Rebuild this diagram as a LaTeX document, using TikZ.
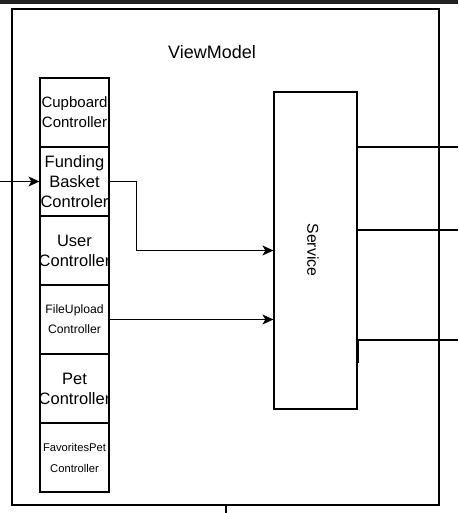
\documentclass[tikz,border=0pt]{standalone}
\usepackage{fontspec}
\setmainfont{Liberation Sans}
\usetikzlibrary{arrows.meta}
\newcommand{\zl}[1]{\makebox[0pt]{#1}}
\begin{document}
\begin{tikzpicture}[x=1pt,y=-1pt,
  line width=1.2pt,
  cell/.style={draw, rectangle, minimum width=69pt, minimum height=69pt, inner sep=0pt, align=center},
  bigtxt/.style={font=\fontsize{16.5}{20}\selectfont},
  midtxt/.style={font=\fontsize{15}{20}\selectfont},
  smalltxt/.style={font=\fontsize{12.2}{20}\selectfont},
  tinytxt/.style={font=\fontsize{11.2}{21}\selectfont},
  arr/.style={-{Stealth[length=11pt,width=10pt,inset=3pt]}}
]
\useasboundingbox (0,0) rectangle (458,513);
\fill[black!87] (0,0) rectangle (458,4);
% outer ViewModel box
\node[draw, rectangle, minimum width=427pt, minimum height=496pt, inner sep=0pt] (vm) at (225.5,257) {};
\node[font=\fontsize{18}{20}\selectfont] (vmlabel) at (212,52) {ViewModel};
% controllers
\node[cell, midtxt]   (cup)  at (74.5,112.5) {\zl{Cupboard}\\\zl{Controller}};
\node[cell, bigtxt]   (fund) at (74.5,181.5) {\zl{Funding}\\\zl{Basket}\\\zl{Controler}};
\node[cell, bigtxt]   (user) at (74.5,250.5) {\zl{User}\\\zl{Controller}};
\node[cell, smalltxt] (file) at (74.5,319.5) {\zl{FileUpload}\\\zl{Controller}};
\node[cell, bigtxt]   (pet)  at (74.5,388.5) {\zl{Pet}\\\zl{Controller}};
\node[cell, tinytxt]  (fav)  at (74.5,457.5) {\zl{FavoritesPet}\\\zl{Controller}};
% service
\node[draw, rectangle, minimum width=83pt, minimum height=317pt, inner sep=0pt] (service) at (315.5,250.5) {};
\node[rotate=-90, font=\fontsize{15.8}{18}\selectfont] (svclabel) at (313,250) {Service};
% connectors
\coordinate (in) at (0,181.5);
\draw[arr] (in) -- (fund.west);
\draw[arr] (fund.east) -- ++(27,0) |- (service.west);
\draw[arr] (file.east) -- (service.west |- file.east);
\coordinate (out1) at (458,147);
\coordinate (out2) at (458,230);
\coordinate (out3) at (458,340);
\coordinate (s3) at (358,363);
\draw (service.east |- out1) -- (out1);
\draw (service.east |- out2) -- (out2);
\draw (s3) -- (s3 |- out3) -- (out3);
\coordinate (bot) at (226,513);
\draw (vm.south -| bot) -- (bot);
\end{tikzpicture}
\end{document}
